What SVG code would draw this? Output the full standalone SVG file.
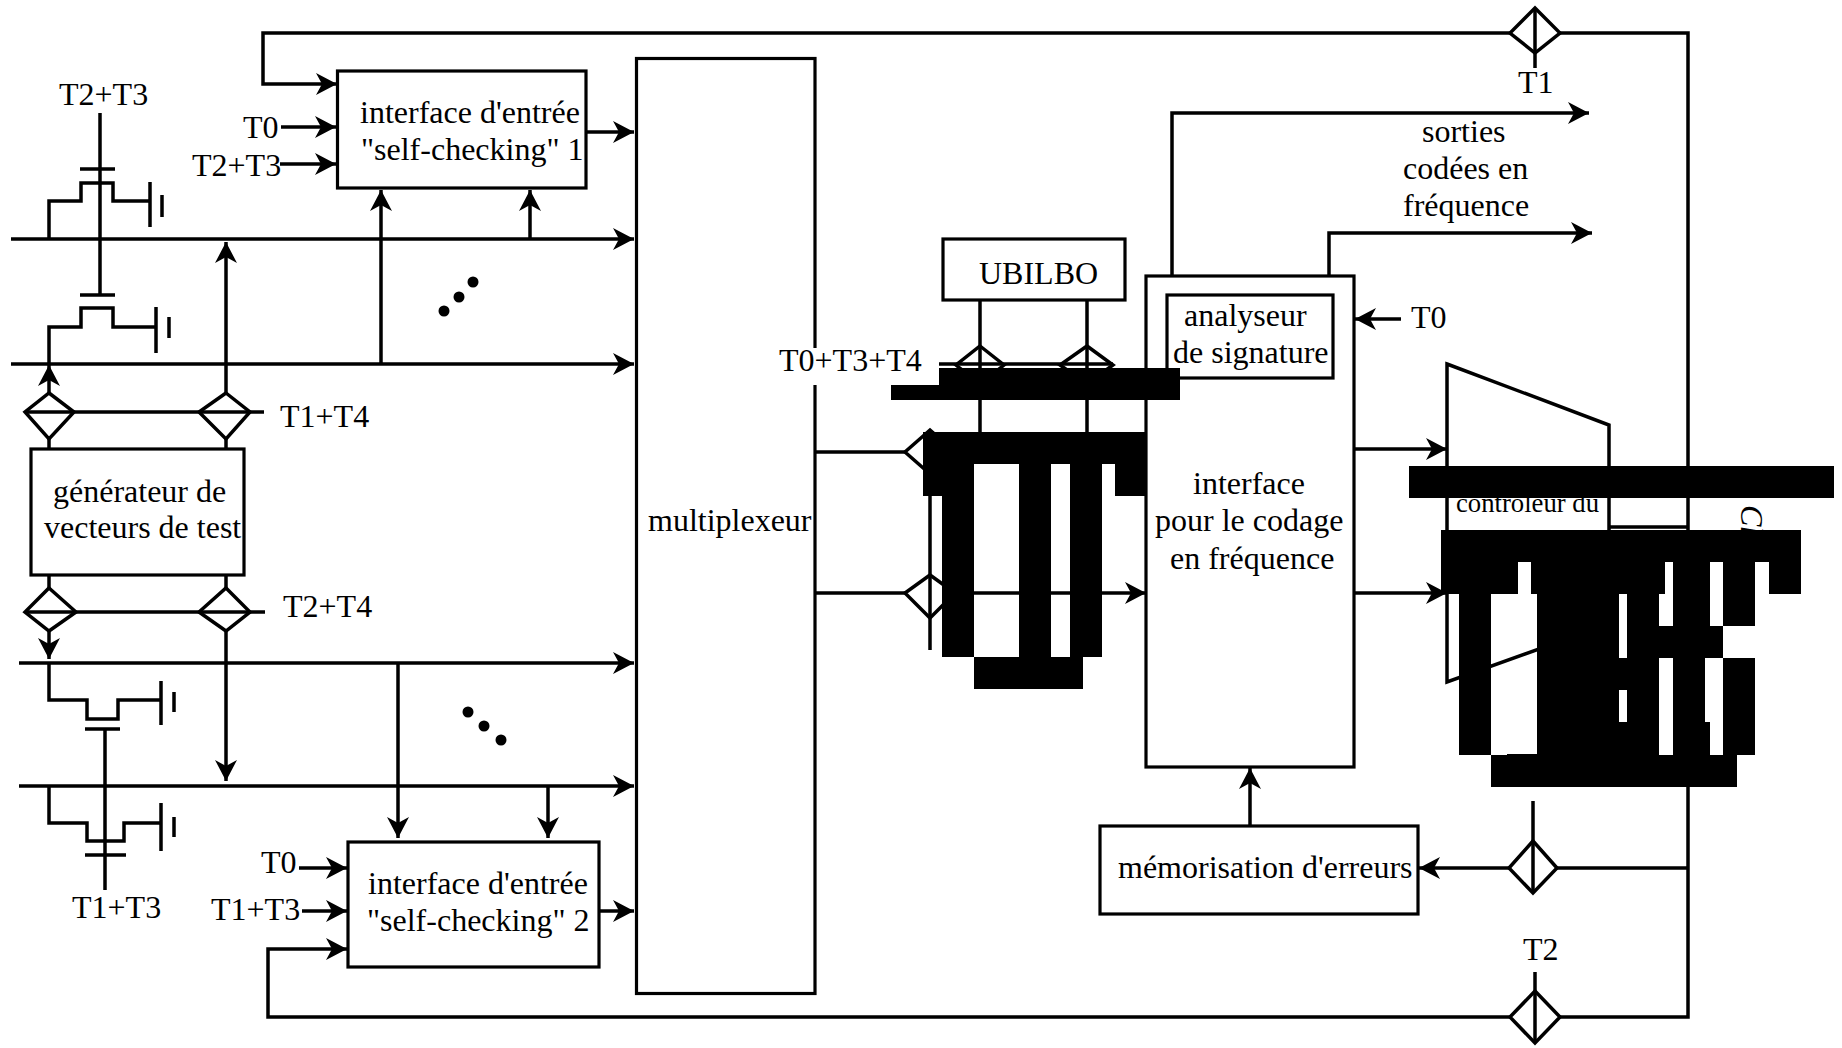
<svg xmlns="http://www.w3.org/2000/svg" width="1842" height="1048" viewBox="0 0 1842 1048">
<defs>
<marker id="ah" markerUnits="userSpaceOnUse" markerWidth="24" markerHeight="24" refX="22" refY="12" orient="auto"><path d="M22,12 L1,1 L7,12 L1,23 Z" fill="#000"/></marker>
</defs>
<style>
text{font-family:"Liberation Serif","Times New Roman",serif;font-size:32px;fill:#000}
.c,.d{fill:none;stroke:#000;stroke-width:3.5}
.b{fill:#fff;stroke:#000;stroke-width:3.2}
.a{marker-end:url(#ah)}
.k{fill:#000;stroke:none}
</style>
<rect width="1842" height="1048" fill="#fff"/>
<g id="node-multiplexeur-box">
<rect class="b" x="636.5" y="58.5" width="178.5" height="935"/>
</g>
<g id="connectors">
<path class="c a" d="M1510,33 H263 V84 H337"/>
<path class="c" d="M1560,33 H1688 V1017 H1560"/>
<path class="c a" d="M1510,1017 H268 V949 H347"/>
<path class="c a" d="M281,127 H336"/><path class="c a" d="M280,164 H336"/>
<path class="c a" d="M586,132 H634"/>
<path class="c a" d="M11,239 H634"/><path class="c a" d="M11,364 H634"/>
<path class="c a" d="M381,364 V190"/><path class="c a" d="M530,239 V190"/>
<path class="c a" d="M226,393 V242"/><path class="c a" d="M49,393 V365"/>
<path class="c" d="M100,113 V295"/>
<path class="c" d="M80,169 H115 M49,239 V201 H81 V183 H113 V201 H150 M150,182 V227 M162,195 V217"/>
<path class="c" d="M80,295 H115 M49,364 V327 H81 V308 H113 V327 H156 M156,307 V353 M169,317 V338"/>
<path class="c" d="M25,412 H264 M49,439 V449 M226,439 V449 M49,575 V588 M226,575 V588 M25,612 H265"/>
<path class="c a" d="M49,631 V659"/><path class="c a" d="M226,631 V781"/>
<path class="c a" d="M19,663 H634"/><path class="c a" d="M19,786 H634"/>
<path class="c a" d="M398,663 V838"/><path class="c a" d="M548,786 V838"/>
<path class="c" d="M49,663 V700 H87 V719 H118 V700 H161 M161,681 V725 M174,692 V712 M85,729 H120 M105,729 V890"/>
<path class="c" d="M49,786 V823 H87 V841 H124 V823 H161 M161,803 V851 M174,817 V837 M85,855 H126"/>
<path class="c a" d="M299,868 H347"/><path class="c a" d="M302,911 H347"/><path class="c a" d="M599,911 H634"/>
<path class="c" d="M815,452 H905 M815,593 H905 M930,430 V650"/>
<path class="c a" d="M955,593 H1146"/>
<path class="c" d="M980,300 V440 M1087,300 V440 M939,364 H1113"/>
<path class="c a" d="M1172,276 V113 H1589"/><path class="c a" d="M1329,276 V233 H1592"/>
<path class="c a" d="M1401,319 H1355"/>
<path class="c a" d="M1354,449 H1447"/><path class="c a" d="M1354,593 H1447"/>
<path class="c a" d="M1250,826 V768"/>
<path class="c a" d="M1509,868 H1419"/><path class="c" d="M1557,868 H1688 M1533,801 V893"/>
<path class="c" d="M1535,8 V68 M1535,972 V1043 M1609,527 H1687"/>
</g>
<g id="switches">
<polygon class="d" points="49,393 74,412 49,439 25,412"/>
<polygon class="d" points="226,393 250,412 226,439 199,412"/>
<polygon class="d" points="49,588 76,612 49,631 25,612"/>
<polygon class="d" points="226,588 250,612 226,631 199,612"/>
<polygon class="d" points="980,346 1004,365 980,384 956,365"/>
<polygon class="d" points="1087,346 1113,365 1087,384 1060,365"/>
<polygon class="d" points="930,430 955,452 930,474 905,452"/>
<polygon class="d" points="930,575 955,593 930,618 905,593"/>
<polygon class="d" points="1535,8 1560,33 1535,53 1510,33"/>
<polygon class="d" points="1533,841 1557,868 1533,893 1509,868"/>
<polygon class="d" points="1535,991 1560,1017 1535,1043 1510,1017"/>
</g>
<g id="node-interface1">
<rect class="b" x="337.5" y="71" width="248.5" height="117"/>
<text x="360" y="123">interface d'entrée</text>
<text x="361" y="160">"self-checking" 1</text>
</g>
<g id="node-interface2">
<rect class="b" x="348" y="842" width="251" height="125"/>
<text x="368" y="894">interface d'entrée</text>
<text x="367" y="931">"self-checking" 2</text>
</g>
<g id="node-generateur">
<rect class="b" x="31" y="449" width="213" height="126"/>
<text x="53" y="502">générateur de</text>
<text x="44" y="538">vecteurs de test</text>
</g>
<g id="node-multiplexeur"><text x="648" y="531">multiplexeur</text></g>
<g id="node-ubilbo">
<rect class="b" x="943" y="239" width="182" height="61"/>
<text x="979" y="284">UBILBO</text>
</g>
<g id="node-codage">
<rect class="b" x="1146" y="276" width="208" height="491"/>
<text x="1193" y="494">interface</text>
<text x="1155" y="531">pour le codage</text>
<text x="1170" y="569">en fréquence</text>
</g>
<g id="node-analyseur">
<rect class="b" x="1167" y="295" width="166" height="83"/>
<text x="1184" y="326">analyseur</text>
<text x="1173" y="363">de signature</text>
</g>
<g id="node-memorisation">
<rect class="b" x="1100" y="826" width="318" height="88"/>
<text x="1118" y="878">mémorisation d'erreurs</text>
</g>
<g id="node-controleur">
<polygon class="d" points="1447,364 1609,425 1609,624 1447,682"/>
<text x="1456" y="512" style="font-size:26.7px">contrôleur du</text>
</g>
<g id="dots">
<circle cx="444" cy="311" r="5.5"/><circle cx="459" cy="297" r="5.5"/><circle cx="473" cy="282" r="5.5"/>
<circle cx="468" cy="712" r="5.5"/><circle cx="484" cy="726" r="5.5"/><circle cx="501" cy="740" r="5.5"/>
</g>
<g id="labels">
<text x="59" y="104.5">T2+T3</text>
<text x="243" y="138">T0</text>
<text x="192" y="176">T2+T3</text>
<text x="280" y="427">T1+T4</text>
<text x="283" y="617">T2+T4</text>
<text x="72" y="918">T1+T3</text>
<text x="261" y="873">T0</text>
<text x="211" y="920">T1+T3</text>
<rect x="777" y="348" width="162" height="37" fill="#fff"/>
<text x="779" y="371">T0+T3+T4</text>
<text x="1411" y="328">T0</text>
<text x="1422" y="142">sorties</text>
<text x="1403" y="179">codées en</text>
<text x="1403" y="216">fréquence</text>
<text x="1518" y="93">T1</text>
<text x="1523" y="960">T2</text>
<text transform="translate(1741,505) rotate(90)" style="font-size:32px;font-style:italic">Ch</text>
</g>
<g id="masks">
<path class="k" d="M939,368 H1180 V400 H891 V385 H939 Z"/>
<path class="k" d="M923,432 H1146 V496 H1115 V464 H1102 V657 H1083 V689 H974 V657 H942 V496 H923 Z"/>
<rect x="974" y="464" width="45" height="193" fill="#fff"/>
<rect x="1051" y="464" width="19" height="193" fill="#fff"/>
<path class="c" d="M974,593 H1019 M1051,593 H1070"/>
<path class="k" d="M1019,464 H1051 V657 H1019 Z M1070,464 H1102 V657 H1070 Z"/>
<path class="k" d="M1409,466 H1834 V498 H1409 Z"/>
<rect class="k" x="1441" y="530" width="360" height="32"/>
<path class="k" d="M1441,562 H1518 V594 H1441 Z M1531,562 H1665 V594 H1531 Z M1673,562 H1710 V594 H1673 Z M1723,562 H1755 V594 H1723 Z M1769,562 H1801 V594 H1769 Z"/>
<path class="k" d="M1459,594 H1491 V755 H1459 Z"/>
<path class="k" d="M1537,594 H1619 V658 H1537 Z M1627,594 H1659 V658 H1627 Z M1673,594 H1710 V626 H1673 Z M1723,594 H1755 V626 H1723 Z M1659,626 H1723 V658 H1659 Z"/>
<path class="k" d="M1537,658 H1659 V690 H1537 Z M1673,658 H1705 V722 H1673 Z M1723,658 H1755 V755 H1723 Z"/>
<path class="k" d="M1537,690 H1619 V722 H1537 Z M1627,690 H1659 V722 H1627 Z M1537,722 H1659 V755 H1537 Z M1673,722 H1710 V755 H1673 Z"/>
<path class="k" d="M1491,755 H1737 V787 H1491 Z M1507,754 H1537 V755 H1507 Z"/>
</g>
</svg>
